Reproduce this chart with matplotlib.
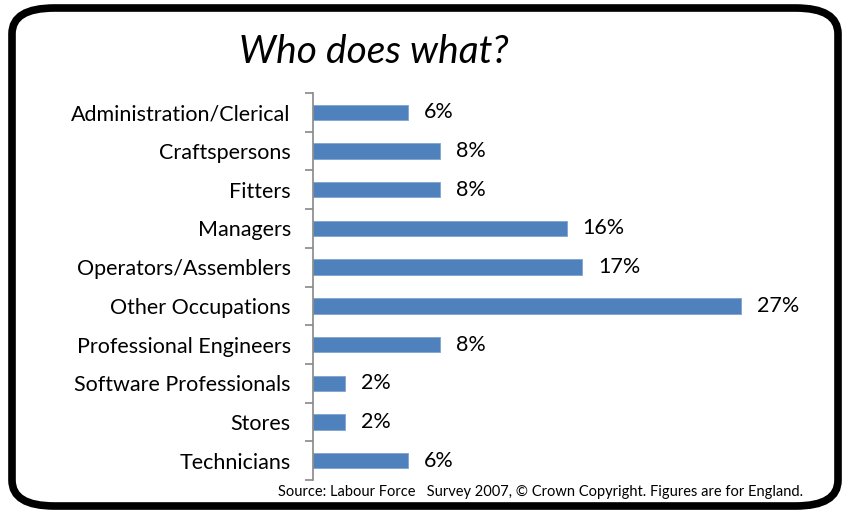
import matplotlib.pyplot as plt
from matplotlib.patches import FancyBboxPatch

# Dados
categorias = ["Administration/Clerical", "Craftspersons", "Fitters", "Managers",
              "Operators/Assemblers", "Other Occupations", "Professional Engineers",
              "Software Professionals", "Stores", "Technicians"]
valores = [6, 8, 8, 16, 17, 27, 8, 2, 2, 6]
rotulos = [f"{v}%" for v in valores]

plt.rcParams['font.family'] = ['Lato', 'DejaVu Sans']

fig = plt.figure(figsize=(8.49, 5.15), dpi=100)

# moldura arredondada (atras de tudo)
moldura = FancyBboxPatch((12 / 849, 9 / 515), 826 / 849, 498 / 515,
                         boxstyle="round,pad=0,rounding_size=0.05",
                         transform=fig.transFigure, facecolor="white",
                         edgecolor="black", linewidth=5.5, zorder=-10)
fig.patches.append(moldura)

ax = fig.add_axes([313 / 849, 35 / 515, (30 * 15.85) / 849, 387 / 515])
ax.set_zorder(5)
ax.set_facecolor("none")

pos = list(range(len(categorias)))
ax.barh(pos, valores, height=0.4, color="#4F81BD", edgecolor="#7FA3D0", linewidth=0.6)

for p, v, r in zip(pos, valores, rotulos):
    ax.text(v + 1.0, p, r, ha="left", va="center", fontsize=15.5, color="black")

ax.set_ylim(len(categorias) - 0.5, -0.5)
ax.set_xlim(0, 30)

ax.set_yticks(pos)
ax.set_yticklabels(categorias, fontsize=15.5)
ax.set_yticks([i - 0.5 for i in range(len(categorias) + 1)], minor=True)
ax.tick_params(axis="y", which="major", length=0, pad=16)
ax.tick_params(axis="y", which="minor", length=6, width=1.2, color="#888888", direction="out")
ax.set_xticks([])

for s in ["top", "right", "bottom"]:
    ax.spines[s].set_visible(False)
ax.spines["left"].set_color("#888888")
ax.spines["left"].set_linewidth(1.2)

fig.text(374 / 849, 1 - 52 / 515, "Who does what?", ha="center", va="center",
         fontsize=28, style="italic", fontweight="normal", color="black")
fig.text(803 / 849, 1 - 492 / 515,
         "Source: Labour Force   Survey 2007, \u00a9 Crown Copyright. Figures are for England.",
         ha="right", va="center", fontsize=10.5, color="black")

fig.savefig("out.png", dpi=100)
